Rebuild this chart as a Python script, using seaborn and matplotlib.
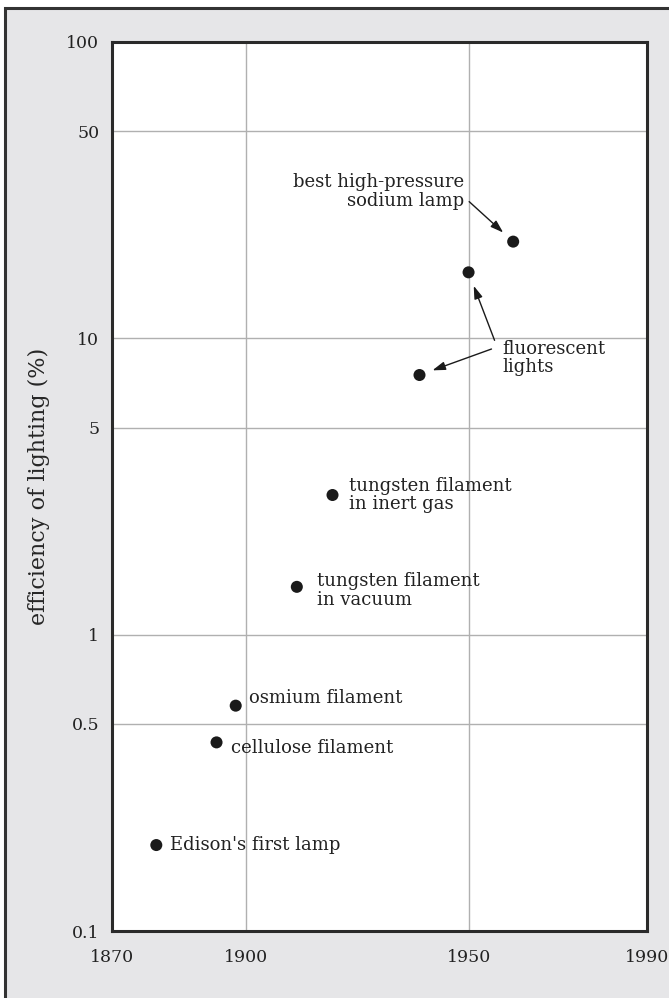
import matplotlib
matplotlib.use("Agg")
import matplotlib.pyplot as plt
from matplotlib.patches import Rectangle
import pandas as pd
import seaborn as sns

# Lamp milestones: year introduced and luminous efficiency (%)
lamps = ["Edison's first lamp", "cellulose filament", "osmium filament",
         "tungsten filament\nin vacuum", "tungsten filament\nin inert gas",
         "fluorescent (early)", "fluorescent (later)",
         "best high-pressure\nsodium lamp"]
years = [1880, 1893.5, 1897.8, 1911.5, 1919.5, 1939, 1950, 1960]
efficiency = [0.195, 0.433, 0.576, 1.45, 2.96, 7.52, 16.7, 21.2]

x_ticks = [1870, 1900, 1950, 1990]
y_ticks = [0.1, 0.5, 1, 5, 10, 50, 100]
y_tick_labels = ["0.1", "0.5", "1", "5", "10", "50", "100"]

df = pd.DataFrame({"lamp": lamps, "year": years, "efficiency": efficiency})

sns.set_theme(style="white")
plt.rcParams["font.family"] = ["DejaVu Serif"]
plt.rcParams["text.color"] = "#222222"

W, H = 669, 998
fig = plt.figure(figsize=(W / 100, H / 100), dpi=100, facecolor="white")

# grey panel with dark frame, running past the right and bottom edges
panel = Rectangle((5, -20), 720, H - 8 + 20, transform=None,
                  facecolor="#e6e6e8", edgecolor="#333333", linewidth=2.2,
                  zorder=-10)
fig.patches.append(panel)

ax = fig.add_axes([111.7 / W, (H - 931) / H, (647 - 111.7) / W, (931 - 42) / H])
ax.set_facecolor("white")

sns.scatterplot(data=df, x="year", y="efficiency", ax=ax, color="#1a1a1a",
                s=75, edgecolor="none", zorder=5, legend=False)

ax.set_yscale("log")
ax.set_xlim(1870, 1990)
ax.set_ylim(0.1, 100)
ax.set_xticks(x_ticks)
ax.set_xticklabels([str(t) for t in x_ticks])
ax.set_yticks(y_ticks)
ax.set_yticklabels(y_tick_labels)
ax.yaxis.set_minor_locator(matplotlib.ticker.NullLocator())
ax.tick_params(axis="both", length=0, labelsize=12.5, colors="#222222")
ax.tick_params(axis="y", pad=9)
ax.tick_params(axis="x", pad=13)
ax.grid(True, color="#b0b0b0", linewidth=1.0)
ax.set_axisbelow(True)
for sp in ax.spines.values():
    sp.set_color("#2a2a2a")
    sp.set_linewidth(2.2)

ax.set_xlabel("")
ax.set_ylabel("efficiency of lighting (%)", fontsize=16, labelpad=12)

txt = dict(textcoords="offset pixels", fontsize=13, linespacing=1.05,
           color="#222222")

# simple labels beside their points
simple = [(0, (14, 0)), (1, (14, -6)), (2, (13, 8)), (3, (20, -4)), (4, (16, 0))]
for i, off in simple:
    ax.annotate(lamps[i], (years[i], efficiency[i]), xytext=off,
                ha="left", va="center", **txt)

arrow = dict(arrowstyle="-|>,head_length=0.55,head_width=0.18",
             color="#1a1a1a", lw=1.0, shrinkA=0, mutation_scale=14)

# sodium lamp label with arrow
ax.annotate(lamps[7], (years[7], efficiency[7]), xytext=(-49, 50),
            ha="right", va="center", **txt)
ax.annotate("", (years[7], efficiency[7]), xytext=(-44, 40),
            textcoords="offset pixels",
            arrowprops=dict(arrow, shrinkB=9.7))

# shared label for the two fluorescent points
ax.annotate("fluorescent\nlights", (years[5], efficiency[5]), xytext=(83, 17),
            ha="left", va="center", **txt)
ax.annotate("", (years[5], efficiency[5]), xytext=(72, 26),
            textcoords="offset pixels",
            arrowprops=dict(arrow, shrinkB=9.9))
ax.annotate("", (years[6], efficiency[6]), xytext=(26, -68),
            textcoords="offset pixels",
            arrowprops=dict(arrow, shrinkB=10.4))

fig.savefig("out.png", dpi=100, facecolor="white")
